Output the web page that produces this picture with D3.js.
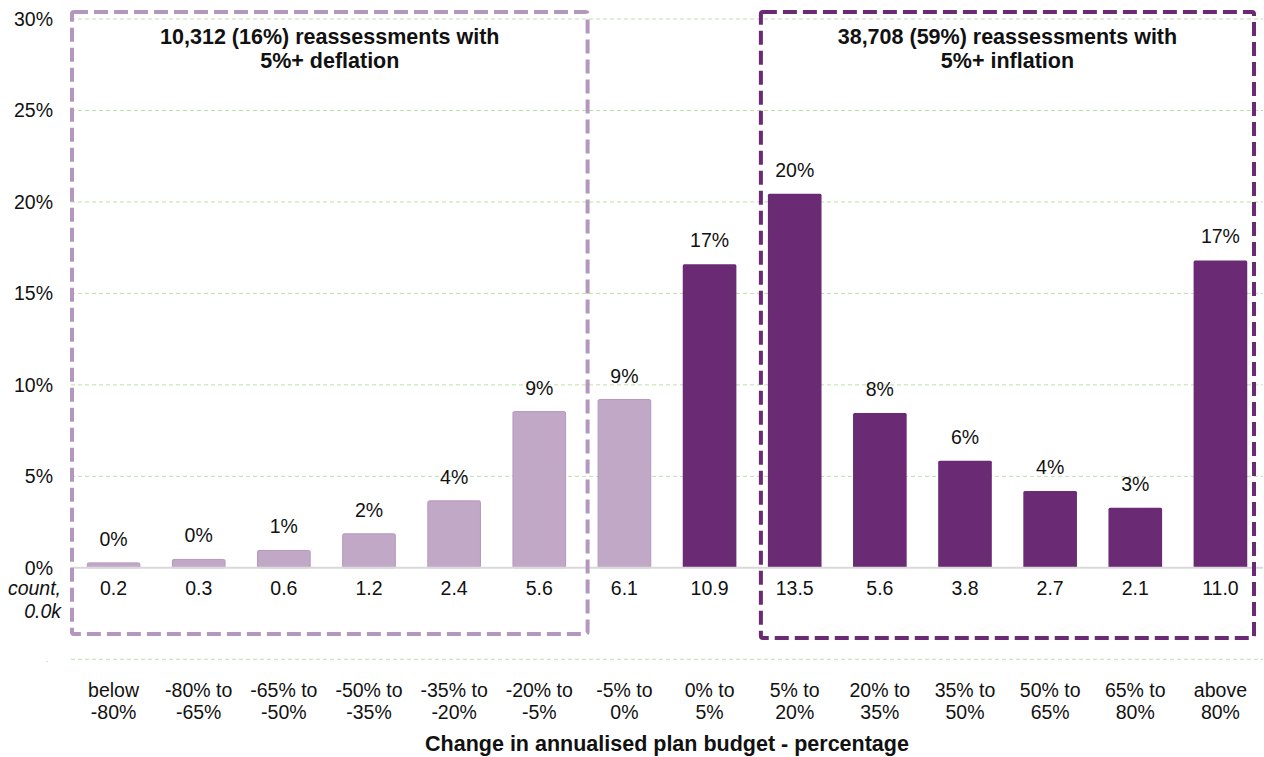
<!DOCTYPE html>
<html>
<head>
<meta charset="utf-8">
<script src="https://cdn.jsdelivr.net/npm/d3@7"></script>
<style>
  html, body { margin: 0; padding: 0; background: #fff; }
  svg { display: block; font-family: "Liberation Sans", Arial, sans-serif; }
</style>
</head>
<body>
<svg id="chart" width="1264" height="757"></svg>
<script>
// Budget change bands (two-line labels)
const categories = [
  ["below", "-80%"], ["-80% to", "-65%"], ["-65% to", "-50%"], ["-50% to", "-35%"],
  ["-35% to", "-20%"], ["-20% to", "-5%"], ["-5% to", "0%"], ["0% to", "5%"],
  ["5% to", "20%"], ["20% to", "35%"], ["35% to", "50%"], ["50% to", "65%"],
  ["65% to", "80%"], ["above", "80%"]
];
// Share of reassessments in each band (%)
const shares = [0.27, 0.46, 0.95, 1.86, 3.66, 8.54, 9.2, 16.6, 20.45, 8.46, 5.85, 4.2, 3.28, 16.8];
// Number of reassessments in each band (thousands)
const counts = [0.2, 0.3, 0.6, 1.2, 2.4, 5.6, 6.1, 10.9, 13.5, 5.6, 3.8, 2.7, 2.1, 11.0];
// Band group: "down" = decrease, "up" = increase
const groups = ["down","down","down","down","down","down","down","up","up","up","up","up","up","up"];
const yTicks = [0, 5, 10, 15, 20, 25, 30];
const boxTitles = {
  down: ["10,312 (16%) reassessments with", "5%+ deflation"],
  up: ["38,708 (59%) reassessments with", "5%+ inflation"]
};
const xTitle = "Change in annualised plan budget - percentage";

const svg = d3.select("#chart");
const left = 71, right = 1263;
const light = "#c1a8c7", lightEdge = "#b497bd", dark = "#6b2a74", grid = "#bfdfa8";
const fs = 19.5, fsBold = 21.5, ink = "#111";

const x = d3.scaleBand().domain(d3.range(categories.length)).range([left, right]).paddingInner(0.37).paddingOuter(0.185);
const y = d3.scaleLinear().domain([-5, 30]).range([659.3, 19]);
const cx = i => x(i) + x.bandwidth() / 2;

// Gridlines
svg.append("g").selectAll("line").data(yTicks.filter(d => d !== 0).concat([-5])).join("line")
  .attr("x1", left).attr("x2", right)
  .attr("y1", d => y(d)).attr("y2", d => y(d))
  .attr("stroke", grid).attr("stroke-width", 1).attr("stroke-dasharray", "4,3");

// Y axis labels
const yAxis = d3.axisLeft(y).tickValues(yTicks).tickFormat(d => d + "%").tickSize(0).tickPadding(0);
const gy = svg.append("g").attr("transform", "translate(53,0)").call(yAxis);
gy.select(".domain").remove();
gy.selectAll("text").attr("font-size", fs).attr("fill", ink).attr("font-family", "Liberation Sans, Arial, sans-serif");
svg.append("text").attr("x", 46).attr("y", y(-5) + 3).attr("font-size", 7).attr("fill", "#888").text(".");

// Bars
svg.append("g").selectAll("rect").data(shares).join("rect")
  .attr("x", (d, i) => x(i) + (groups[i] === "down" ? 0.5 : 0))
  .attr("width", (d, i) => x.bandwidth() - (groups[i] === "down" ? 1 : 0))
  .attr("y", d => y(d))
  .attr("height", d => y(0) - y(d))
  .attr("rx", 1.5)
  .attr("fill", (d, i) => groups[i] === "down" ? light : dark)
  .attr("stroke", (d, i) => groups[i] === "down" ? lightEdge : "none")
  .attr("stroke-width", 1);

// Zero line
svg.append("line").attr("x1", left).attr("x2", right).attr("y1", y(0)).attr("y2", y(0))
  .attr("stroke", "#d9d9d9").attr("stroke-width", 2);

// Value labels
svg.append("g").selectAll("text").data(shares).join("text")
  .attr("x", (d, i) => cx(i))
  .attr("y", d => y(d) - 17)
  .attr("text-anchor", "middle").attr("font-size", fs).attr("fill", ink)
  .text(d => Math.round(d) + "%");

// Count labels
svg.append("g").selectAll("text").data(counts).join("text")
  .attr("x", (d, i) => cx(i))
  .attr("y", 595)
  .attr("text-anchor", "middle").attr("font-size", fs).attr("fill", ink)
  .text(d => d.toFixed(1));
svg.append("text").attr("x", 61).attr("y", 595).attr("text-anchor", "end")
  .attr("font-size", fs).attr("font-style", "italic").attr("fill", ink).text("count,");
svg.append("text").attr("x", 61).attr("y", 618).attr("text-anchor", "end")
  .attr("font-size", fs).attr("font-style", "italic").attr("fill", ink).text("0.0k");

// Category labels
const cat = svg.append("g").selectAll("text").data(categories).join("text")
  .attr("text-anchor", "middle").attr("font-size", fs).attr("fill", ink);
cat.append("tspan").attr("x", (d, i) => cx(i)).attr("y", 697).text(d => d[0]);
cat.append("tspan").attr("x", (d, i) => cx(i)).attr("y", 719).text(d => d[1]);

// Axis title
svg.append("text").attr("x", 667).attr("y", 751).attr("text-anchor", "middle")
  .attr("font-size", fsBold).attr("font-weight", "bold").attr("fill", ink).text(xTitle);

// Group boxes around the bands with large decreases / increases
function groupBox(key, x0, x1, color, bottom) {
  svg.append("rect").attr("x", x0).attr("y", 12).attr("width", x1 - x0).attr("height", bottom - 12)
    .attr("rx", 2).attr("fill", "none").attr("stroke", color).attr("stroke-width", 4)
    .attr("stroke-dasharray", "14,6");
  const mid = (x0 + x1) / 2;
  boxTitles[key].forEach((t, k) => {
    svg.append("text").attr("x", mid).attr("y", 43.5 + k * 24).attr("text-anchor", "middle")
      .attr("font-size", fsBold).attr("font-weight", "bold").attr("fill", ink).text(t);
  });
}
groupBox("down", 72, x(6) - 10, "#b497bd", 634);
groupBox("up", x(8) - 7, 1254, dark, 638);
</script>
</body>
</html>
